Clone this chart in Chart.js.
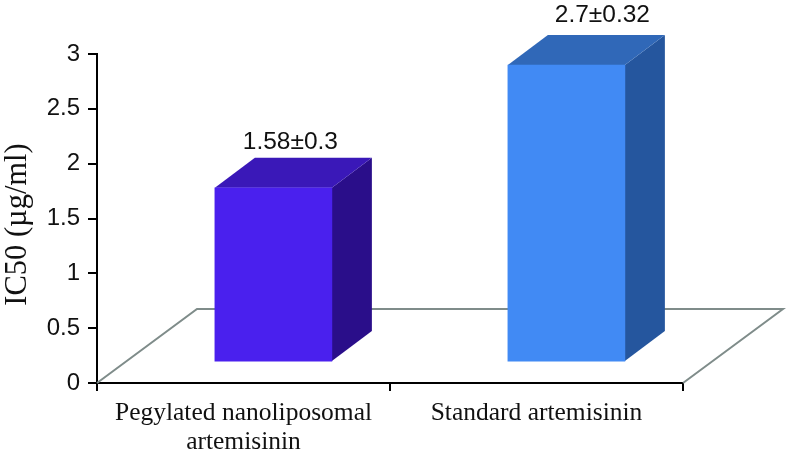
<!DOCTYPE html>
<html>
<head>
<meta charset="utf-8">
<title>IC50</title>
<script src="https://cdn.jsdelivr.net/npm/chart.js@4"></script>
<style>
html, body { margin: 0; padding: 0; background: #fff; }
canvas { display: block; }
</style>
</head>
<body>
<canvas id="icChart" width="786" height="455"></canvas>
<script>
const categories = [['Pegylated nanoliposomal', 'artemisinin'], 'Standard artemisinin'];
const values = [1.58, 2.7];
const valueLabels = ['1.58±0.3', '2.7±0.32'];
const yTicks = [0, 0.5, 1, 1.5, 2, 2.5, 3];
const yTitle = 'IC50 (µg/ml)';
const frontColors = ['#4a20ee', '#418af4'];
const sideColors = ['#2a0e8a', '#25569e'];
const topColors = ['#3a18b8', '#3068b8'];

// the box has a fixed oblique offset, floor is 100/74 deep
const floorDepth = { x: 100, y: 74 };
const barDepth = { x: 40, y: 30 };
// value labels are not placed the same way over both bars
const labelNudge = [{ x: 17, y: 9 }, { x: 36, y: 13 }];

function face(ctx, pts, color) {
    ctx.fillStyle = color;
    ctx.beginPath();
    pts.forEach((p, i) => i ? ctx.lineTo(p[0], p[1]) : ctx.moveTo(p[0], p[1]));
    ctx.closePath();
    ctx.fill();
}

const box3d = {
    id: 'box3d',
    beforeDatasetsDraw(chart) {
        // floor outline
        const { ctx, chartArea: a } = chart;
        ctx.save();
        ctx.strokeStyle = '#7f8c8a';
        ctx.lineWidth = 2;
        ctx.beginPath();
        ctx.moveTo(a.left, a.bottom);
        ctx.lineTo(a.left + floorDepth.x, a.bottom - floorDepth.y);
        ctx.lineTo(a.right + floorDepth.x, a.bottom - floorDepth.y);
        ctx.lineTo(a.right, a.bottom);
        ctx.stroke();

        // side and top of each bar
        chart.getDatasetMeta(0).data.forEach((bar, i) => {
            const l = bar.x - bar.width / 2, r = bar.x + bar.width / 2;
            const dx = barDepth.x, dy = barDepth.y;
            face(ctx, [[r, bar.y], [r + dx, bar.y - dy], [r + dx, bar.base - dy], [r, bar.base]], sideColors[i]);
            face(ctx, [[l, bar.y], [l + dx, bar.y - dy], [r + dx, bar.y - dy], [r, bar.y]], topColors[i]);
        });
        ctx.restore();
    },
    afterDatasetsDraw(chart) {
        const { ctx } = chart;
        ctx.save();
        ctx.fillStyle = '#111';
        ctx.font = '24.5px "Liberation Sans"';
        ctx.textAlign = 'center';
        ctx.textBaseline = 'alphabetic';
        chart.getDatasetMeta(0).data.forEach((bar, i) => {
            ctx.fillText(valueLabels[i], bar.x + labelNudge[i].x, bar.y - barDepth.y - labelNudge[i].y);
        });

        // axis title sits a little below the middle of the axis
        ctx.translate(26, 224.5);
        ctx.rotate(-Math.PI / 2);
        ctx.font = '30.5px "Liberation Serif"';
        ctx.fillText(yTitle, 0, 0);
        ctx.restore();
    }
};

new Chart(document.getElementById('icChart').getContext('2d'), {
    type: 'bar',
    plugins: [box3d],
    data: {
        datasets: [{
            data: values.map((v, i) => ({ x: i, y: v })),
            backgroundColor: frontColors,
            barThickness: 117,
            xAxisID: 'xBar',
            yAxisID: 'yBar'
        }]
    },
    options: {
        responsive: false,
        animation: false,
        layout: { padding: { top: 54, right: 103, left: 0, bottom: 0 } },
        plugins: { legend: { display: false }, tooltip: { enabled: false } },
        scales: {
            x: {
                type: 'category',
                labels: categories,
                offset: true,
                position: 'bottom',
                grid: { offset: true, drawOnChartArea: false, color: '#000', lineWidth: 2, tickLength: 8 },
                border: { color: '#000', width: 2 },
                ticks: {
                    color: '#111',
                    maxRotation: 0,
                    padding: 8,
                    font: { family: '"Liberation Serif"', size: 25.5, lineHeight: 1.14 }
                },
                afterFit(scale) { scale.height = 72; }
            },
            y: {
                position: 'left',
                min: 0,
                max: 3,
                afterBuildTicks(scale) {
                    scale.ticks = yTicks.map(v => ({ value: v }));
                },
                grid: { drawOnChartArea: false, color: '#000', lineWidth: 2, tickLength: 9 },
                border: { color: '#000', width: 2 },
                ticks: {
                    color: '#111',
                    padding: 8,
                    callback: v => String(v),
                    font: { family: '"Liberation Sans"', size: 24 }
                },
                afterFit(scale) { scale.width = 97; }
            },
            // hidden scales carry the bars forward into the floor
            xBar: { type: 'linear', display: false, offset: false, min: -0.602, max: 1.398 },
            yBar: { display: false, min: -0.2, max: 2.8 }
        }
    }
});
</script>
</body>
</html>
